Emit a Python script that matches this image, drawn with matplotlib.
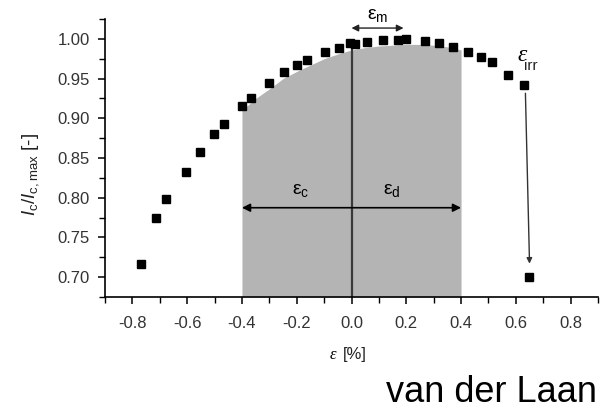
import numpy as np
import matplotlib
matplotlib.use('Agg')
import matplotlib.pyplot as plt

plt.rcParams['font.family'] = ['Liberation Sans', 'DejaVu Sans']
plt.rcParams['mathtext.fontset'] = 'custom'
plt.rcParams['mathtext.rm'] = 'Liberation Sans'
plt.rcParams['mathtext.it'] = 'Liberation Sans:italic'
plt.rcParams['mathtext.bf'] = 'Liberation Sans:bold'

# meetpunten: rek [%] en genormaliseerde kritische stroom
rek = [-0.768, -0.712, -0.676, -0.606, -0.553, -0.501, -0.467, -0.400, -0.367, -0.302,
       -0.246, -0.200, -0.162, -0.095, -0.044, -0.007, 0.011, 0.055, 0.114, 0.169,
       0.200, 0.268, 0.319, 0.370, 0.424, 0.473, 0.512, 0.572, 0.629, 0.648]
ic_norm = [0.717, 0.774, 0.798, 0.832, 0.858, 0.880, 0.893, 0.915, 0.925, 0.945,
           0.958, 0.967, 0.973, 0.983, 0.988, 0.9945, 0.993, 0.9966, 0.998, 0.999,
           1.000, 0.9975, 0.9945, 0.990, 0.984, 0.977, 0.971, 0.955, 0.942, 0.700]

# grijs gebied (omkeerbaar bereik)
vlak_x = [-0.40, -0.35, -0.30, -0.25, -0.20, -0.15, -0.10, -0.05, 0.00,
          0.05, 0.10, 0.15, 0.20, 0.25, 0.30, 0.35, 0.40]
vlak_y = [0.910, 0.925, 0.937, 0.950, 0.959, 0.967, 0.975, 0.981, 0.986,
          0.989, 0.991, 0.992, 0.993, 0.993, 0.992, 0.990, 0.986]

x_ticks = [-0.8, -0.6, -0.4, -0.2, 0.0, 0.2, 0.4, 0.6, 0.8]
y_ticks = [0.70, 0.75, 0.80, 0.85, 0.90, 0.95, 1.00]

fig = plt.figure(figsize=(6.02, 4.09), dpi=100)
ax = fig.add_axes([105 / 602, 112 / 409, 493 / 602, 278 / 409])

ax.fill_between(vlak_x, 0.675, vlak_y, color='#b4b4b4', lw=0, zorder=1)
ax.plot([0, 0], [0.675, 0.993], color='#3a3a3a', lw=1.6, zorder=2)
ax.plot(rek, ic_norm, 's', color='black', ms=6, zorder=3)

# pijlen
ax.annotate('', xy=(-0.4, 0.7874), xytext=(0.4, 0.7874),
            arrowprops=dict(arrowstyle='<|-|>', color='black', lw=1.2,
                            mutation_scale=12, shrinkA=0, shrinkB=0))
ax.annotate('', xy=(0.0, 1.0136), xytext=(0.19, 1.0136),
            arrowprops=dict(arrowstyle='<|-|>', color='#222222', lw=1.0,
                            mutation_scale=10, shrinkA=0, shrinkB=0),
            annotation_clip=False)
ax.annotate('', xy=(0.650, 0.717), xytext=(0.635, 0.9315),
            arrowprops=dict(arrowstyle='-|>', color='#333333', lw=1.0,
                            mutation_scale=8, shrinkA=0, shrinkB=0))

ax.text(-0.187, 0.8085, r'$\mathrm{ε}_\mathrm{c}$', fontsize=14, ha='center', va='center')
ax.text(0.146, 0.8085, r'$\mathrm{ε}_\mathrm{d}$', fontsize=14, ha='center', va='center')
ax.text(0.095, 1.029, r'$\mathrm{ε}_\mathrm{m}$', fontsize=14, ha='center', va='center',
        clip_on=False)
ax.text(0.622, 0.979, 'ε', fontsize=17, style='italic', family='Liberation Serif',
        ha='center', va='center')
ax.text(0.655, 0.966, 'irr', fontsize=11, ha='center', va='center', color='#222222')

ax.set_xlim(-0.9, 0.9)
ax.set_ylim(0.675, 1.025)
ax.set_xticks(x_ticks)
ax.set_xticklabels(['%.1f' % v for v in x_ticks])
ax.set_yticks(y_ticks)
ax.set_yticklabels(['%.2f' % v for v in y_ticks])
ax.set_xticks(np.arange(-0.9, 0.91, 0.1), minor=True)
ax.set_yticks(np.arange(0.675, 1.026, 0.025), minor=True)

for s in ['top', 'right']:
    ax.spines[s].set_visible(False)
for s in ['left', 'bottom']:
    ax.spines[s].set_linewidth(1.2)

ax.tick_params(axis='both', which='major', direction='out', length=5, width=1.1,
               labelsize=12, labelcolor='#333333')
ax.tick_params(axis='both', which='minor', direction='out', length=4, width=1.0)
ax.tick_params(axis='x', which='major', pad=9)
ax.tick_params(axis='y', which='major', pad=6)

# aslabels
fig.text(31 / 602, 1 - 175 / 409, r'$I_\mathrm{c}/I_\mathrm{c,max}$ [-]', rotation=90,
         fontsize=13.5, ha='center', va='center', color='#222222')
fig.text(333 / 602, 1 - 355 / 409, 'ε', fontsize=12, style='italic',
         family='Liberation Serif', ha='center', va='center')
fig.text(355 / 602, 1 - 355 / 409, '[%]', fontsize=12, ha='center', va='center',
         color='#222222')

fig.text(597 / 602, 1 - 402 / 409, 'van der Laan', fontsize=26, ha='right',
         va='baseline')

fig.savefig('out.png', dpi=100)
